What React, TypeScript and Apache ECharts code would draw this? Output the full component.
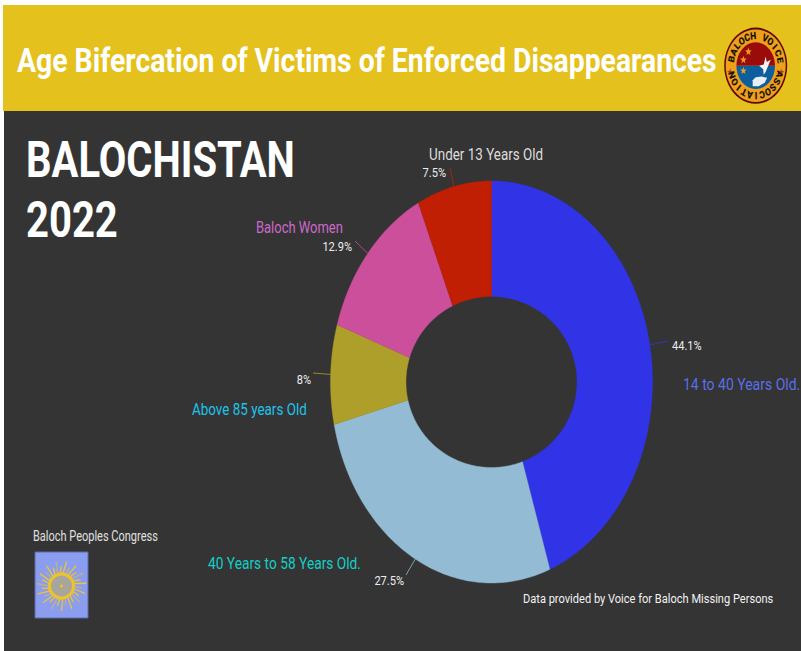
import React, { useEffect, useRef } from "react";
import * as echarts from "echarts";

const categories = ["14 to 40 Years Old.", "40 Years to 58 Years Old.", "Above 85 years Old", "Baloch Women", "Under 13 Years Old"];
const values = [44.1, 27.5, 8, 12.9, 7.5];
const sliceColors = ["#3034E6", "#93BBD3", "#AE9E2A", "#CB4F9B", "#C11F04"];
const nameColors = ["#5A6FE8", "#12CFC8", "#1FC3EA", "#CE68CB", "#DDDDDD"];
const namePositions = [[683, 385], [208, 564], [192, 410], [256, 228], [429, 155]];
const nameScales = [0.875, 0.86, 0.84, 0.81, 0.84];
const lineEnds = [[668, 341], [406, 575], [313, 373], [355, 241], [450, 168]];
const labelAnchors = [[672, 346], [404, 581], [311, 380], [352, 247], [446, 173]];
const labelAligns = ["left", "right", "right", "right", "right"];
const title = "Age Bifercation of Victims of Enforced Disappearances";
const heading = ["BALOCHISTAN", "2022"];
const footerLeft = "Baloch Peoples Congress";
const footerRight = "Data provided by Voice for Baloch Missing Persons";
const logoTop = "BALOCH VOICE";
const logoBottom = "ASSOCIATION";

const FONT = "Roboto, sans-serif";
const CX = 491.5;
const CY = 382;
const RX = 161;
const RY = 201;
const HOLE = 85.5;

function star(cx: number, cy: number, r: number, fill: string) {
  const points: number[][] = [];
  for (let i = 0; i < 10; i++) {
    const rr = i % 2 ? r * 0.42 : r;
    const a = -Math.PI / 2 + (i * Math.PI) / 5;
    points.push([cx + rr * Math.cos(a), cy + rr * Math.sin(a)]);
  }
  return { type: "polygon", shape: { points }, style: { fill } };
}

function arcLetters(text: string, radius: number, startDeg: number, stepDeg: number) {
  return text.split("").map((ch, i) => {
    const a = ((startDeg + i * stepDeg) * Math.PI) / 180;
    return {
      type: "text",
      x: radius * Math.cos(a),
      y: radius * Math.sin(a),
      rotation: -(a + Math.PI / 2),
      style: { text: ch, fill: "#1a1208", font: `900 8.5px ${FONT}`, align: "center", verticalAlign: "middle" },
    };
  });
}

function logo() {
  return {
    type: "group",
    x: 755.7,
    y: 65.7,
    scaleX: 1,
    scaleY: 1.21,
    children: [
      { type: "circle", shape: { cx: 0, cy: 0, r: 31.5 }, style: { fill: "#5E0A0A" } },
      { type: "circle", shape: { cx: 0, cy: 0, r: 30 }, style: { fill: "#EE9F1C" } },
      { type: "sector", shape: { cx: 0, cy: 0, r: 19.3, r0: 0, startAngle: Math.PI, endAngle: Math.PI * 2 }, style: { fill: "#9A0C0C" } },
      { type: "sector", shape: { cx: 0, cy: 0, r: 19.3, r0: 0, startAngle: 0, endAngle: Math.PI }, style: { fill: "#0D5E9C" } },
      star(-7.3, -11.6, 3.4, "#EE9F1C"),
      star(-12.3, -4.8, 3.4, "#EE9F1C"),
      star(-12.3, 4.2, 3.4, "#EE9F1C"),
      star(-25.5, 5.5, 3.2, "#A3421A"),
      star(25.5, 5.5, 3.2, "#A3421A"),
      { type: "polygon", shape: { points: [[10, -7.5], [11, -3], [15, -5], [12.5, 0], [10, 5], [8, 7.5], [7.5, 3], [3.5, 0], [8, -1]] }, style: { fill: "#F4F4F4" } },
      { type: "polygon", shape: { points: [[-3, 17], [-3, 12], [0, 9.5], [6, 9], [11.5, 10], [9, 14], [3, 17]] }, style: { fill: "#E8EEF4" } },
      ...arcLetters(logoTop, 25, -167, 14.2),
      ...arcLetters(logoBottom, 25, 17, 14.5),
    ],
  };
}

function sun() {
  const rays: any[] = [];
  for (let i = 0; i < 30; i++) {
    const a = (i * 2 * Math.PI) / 30;
    const len = i % 2 ? 25 : 20;
    rays.push({
      type: "line",
      shape: { x1: 12 * Math.cos(a), y1: 12 * Math.sin(a), x2: len * Math.cos(a + 0.1), y2: len * Math.sin(a + 0.1) },
      style: { stroke: i % 3 ? "#E8C53A" : "#BFB28A", lineWidth: 1.3 },
    });
  }
  return {
    type: "group",
    x: 61.5,
    y: 586,
    children: [
      ...rays,
      { type: "circle", shape: { cx: 0, cy: 0, r: 12 }, style: { fill: "#A8A69C", stroke: "#EDC32D", lineWidth: 3 } },
      { type: "circle", shape: { cx: 0, cy: 0, r: 1.5 }, style: { fill: "#EDC32D" } },
    ],
  };
}

const total = values.reduce((a, b) => a + b, 0);

function renderSlice(params: any, api: any) {
  const i = params.dataIndex;
  const value = api.value(1);
  const before = values.slice(0, i).reduce((a, b) => a + b, 0);
  const start = (before / total) * Math.PI * 2;
  const end = ((before + value) / total) * Math.PI * 2;
  const mid = (start + end) / 2;
  const steps = Math.max(8, Math.round((end - start) * 60));
  const points: number[][] = [];
  for (let k = 0; k <= steps; k++) {
    const a = start + ((end - start) * k) / steps;
    points.push([CX + RX * Math.sin(a), CY - RY * Math.cos(a)]);
  }
  for (let k = steps; k >= 0; k--) {
    const a = start + ((end - start) * k) / steps;
    points.push([CX + HOLE * Math.sin(a), CY - HOLE * Math.cos(a)]);
  }
  return {
    type: "group",
    children: [
      { type: "polygon", shape: { points }, style: { fill: sliceColors[i], stroke: sliceColors[i], lineWidth: 0.4 } },
      {
        type: "polyline",
        shape: { points: [[CX + RX * Math.sin(mid), CY - RY * Math.cos(mid)], lineEnds[i]] },
        style: { stroke: sliceColors[i], lineWidth: 0.8, fill: "none" },
      },
      {
        type: "text",
        x: labelAnchors[i][0],
        y: labelAnchors[i][1],
        scaleX: 0.85,
        style: {
          text: `${value}%`,
          fill: "#EDEDED",
          font: `400 13px ${FONT}`,
          align: labelAligns[i],
          verticalAlign: "middle",
        },
      },
    ],
  };
}

export default function App() {
  const ref = useRef<HTMLDivElement>(null);
  useEffect(() => {
    document.body.style.margin = "0";
    const chart = echarts.init(ref.current!, undefined, { renderer: "svg" });
    chart.setOption({
      animation: false,
      backgroundColor: "#FFFFFF",
      graphic: [
        { type: "rect", z: -10, shape: { x: 3, y: 5, width: 798, height: 106 }, style: { fill: "#E5C11D" } },
        { type: "rect", z: -10, shape: { x: 4, y: 111, width: 797, height: 540 }, style: { fill: "#343434" } },
        { type: "text", x: 17, y: 61, scaleX: 0.834, style: { text: title, fill: "#FFFFFF", font: `700 34px ${FONT}`, verticalAlign: "middle" } },
        { type: "text", x: 26, y: 160, scaleX: 0.8, style: { text: heading[0], fill: "#FFFFFF", font: `700 50px ${FONT}`, verticalAlign: "middle" } },
        { type: "text", x: 26, y: 220, scaleX: 0.8, style: { text: heading[1], fill: "#FFFFFF", font: `700 50px ${FONT}`, verticalAlign: "middle" } },
        ...categories.map((name, i) => ({
          type: "text",
          x: namePositions[i][0],
          y: namePositions[i][1],
          scaleX: nameScales[i],
          style: { text: name, fill: nameColors[i], font: `400 16px ${FONT}`, verticalAlign: "middle" },
        })),
        { type: "text", x: 33, y: 536, scaleX: 0.786, style: { text: footerLeft, fill: "#E0E0E0", font: `400 14px ${FONT}`, verticalAlign: "middle" } },
        { type: "text", x: 523, y: 599, scaleX: 0.852, style: { text: footerRight, fill: "#F2F2F2", font: `400 13px ${FONT}`, verticalAlign: "middle" } },
        { type: "rect", shape: { x: 35, y: 552, width: 53, height: 66 }, style: { fill: "#8A9DEF", stroke: "#5D68A8", lineWidth: 1 } },
        sun(),
        logo(),
      ],
      series: [
        {
          type: "custom",
          coordinateSystem: "none",
          renderItem: renderSlice,
          data: categories.map((name, i) => ({ name, value: [i, values[i]] })),
        },
      ],
    });
    return () => chart.dispose();
  }, []);
  return <div ref={ref} style={{ width: 801, height: 651 }} />;
}
